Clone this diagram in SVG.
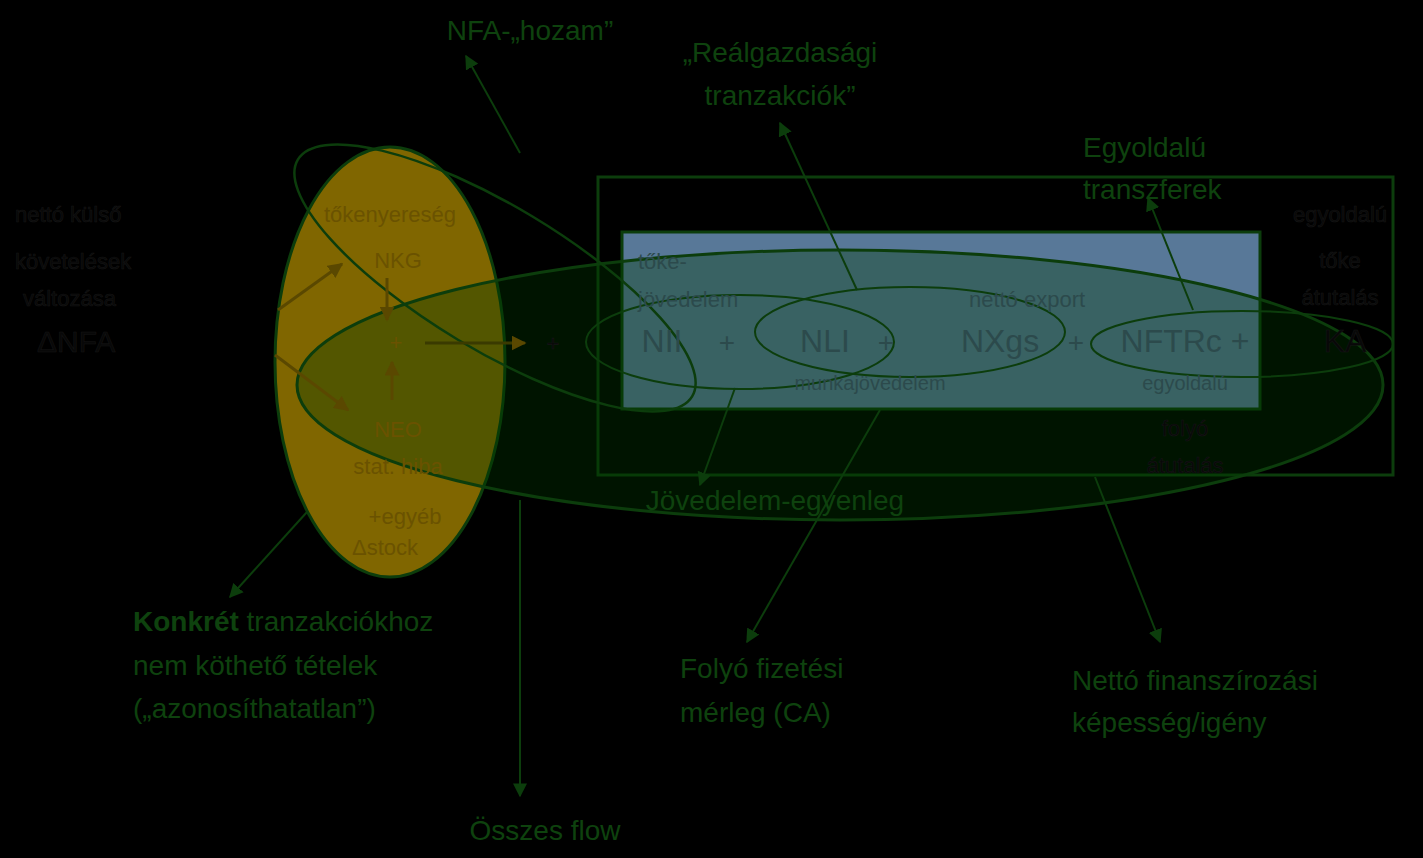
<svg xmlns="http://www.w3.org/2000/svg" width="1423" height="858" viewBox="0 0 1423 858">
<defs>
<marker id="ag" viewBox="0 0 10 10" refX="9" refY="5" markerWidth="7" markerHeight="7" orient="auto"><path d="M0,0L10,5L0,10z" fill="#0c3d0c"/></marker>
<marker id="ao" viewBox="0 0 10 10" refX="9" refY="5" markerWidth="5" markerHeight="5" orient="auto"><path d="M0,0L10,5L0,10z" fill="#5a4800"/></marker>
</defs>
<style>
text{font-family:"Liberation Sans",Arial,sans-serif}
.lab{fill:#0e420e;font-size:28px}
.blk{fill:#080808;font-size:22px;stroke:#151515;stroke-width:0.6}
.ol{fill:#6a5200;font-size:22px}
.bl{fill:#2c4a4c;font-size:22px}
.ln{stroke:#0c3d0c;stroke-width:2;fill:none}
</style>
<rect width="1423" height="858" fill="#000"/>
<g id="yellow"><ellipse cx="390" cy="362" rx="115" ry="215" fill="#806600" stroke="#0c3d0c" stroke-width="3"/></g>
<g id="outerbox"><rect x="598" y="177" width="795" height="298" fill="none" stroke="#0c3d0c" stroke-width="3"/></g>
<g id="bluebox"><rect x="622" y="232" width="638" height="177" fill="#587898" stroke="#0c3d0c" stroke-width="3"/></g>
<g id="bigellipse"><ellipse cx="840" cy="385" rx="543" ry="135" fill="#003a00" fill-opacity="0.35" stroke="#0c3d0c" stroke-width="3"/></g>
<g id="nfaellipse"><ellipse cx="495" cy="278" rx="230" ry="72" transform="rotate(31 495 278)" fill="none" stroke="#0c3d0c" stroke-width="2.5"/></g>
<g id="smallellipses">
<ellipse cx="740" cy="342" rx="154" ry="47" class="ln" stroke="#1a5a1a"/>
<ellipse cx="910" cy="332" rx="155" ry="45" class="ln" stroke="#1a5a1a"/>
<ellipse cx="1242" cy="344" rx="151" ry="33" class="ln" stroke="#1a5a1a"/>
</g>
<g id="left-text" class="blk">
<text x="15" y="222">nettó külső</text>
<text x="15" y="269">követelések</text>
<text x="23" y="306">változása</text>
<text x="37" y="352" font-size="30">ΔNFA</text>
</g>
<g id="yellow-text">
<text x="390" y="222" text-anchor="middle" class="ol">tőkenyereség</text>
<text x="398" y="268" text-anchor="middle" class="ol" font-size="32">NKG</text>
<text x="396" y="350" text-anchor="middle" class="ol">+</text>
<text x="398" y="437" text-anchor="middle" class="ol" font-size="32" fill="#3c3c00">NEO</text>
<text x="398" y="474" text-anchor="middle" class="ol" fill="#3c3c00">stat. hiba</text>
<text x="405" y="524" text-anchor="middle" class="ol" fill="#0e420e">+egyéb</text>
<text x="385" y="555" text-anchor="middle" class="ol" fill="#0e420e">Δstock</text>
<text x="553" y="351" text-anchor="middle" class="blk">+</text>
</g>
<g id="blue-text" class="bl">
<text x="638" y="269">tőke-</text>
<text x="638" y="307">jövedelem</text>
<text x="662" y="352" font-size="32" text-anchor="middle">NII</text>
<text x="727" y="352" font-size="28" text-anchor="middle">+</text>
<text x="825" y="352" font-size="32" text-anchor="middle">NLI</text>
<text x="886" y="352" font-size="28" text-anchor="middle">+</text>
<text x="1027" y="307" text-anchor="middle">nettó export</text>
<text x="1000" y="352" font-size="32" text-anchor="middle">NXgs</text>
<text x="1076" y="352" font-size="28" text-anchor="middle">+</text>
<text x="1185" y="352" font-size="32" text-anchor="middle">NFTRc +</text>
<text x="870" y="390" font-size="20" text-anchor="middle">munkajövedelem</text>
<text x="1185" y="390" font-size="20" text-anchor="middle">egyoldalú</text>
</g>
<g id="right-text" class="blk" text-anchor="middle">
<text x="1340" y="222">egyoldalú</text>
<text x="1340" y="268">tőke</text>
<text x="1340" y="305">átutalás</text>
<text x="1345" y="352" font-size="32">KA</text>
<text x="1185" y="436">folyó</text>
<text x="1185" y="473">átutalás</text>
</g>
<g id="connectors">
<line x1="520" y1="153" x2="466" y2="56" class="ln" marker-end="url(#ag)"/>
<line x1="857" y1="290" x2="780" y2="123" class="ln" marker-end="url(#ag)"/>
<line x1="1193" y1="310" x2="1148" y2="198" class="ln" marker-end="url(#ag)"/>
<line x1="735" y1="388" x2="700" y2="485" class="ln" marker-end="url(#ag)"/>
<line x1="880" y1="410" x2="747" y2="642" class="ln" marker-end="url(#ag)"/>
<line x1="1095" y1="477" x2="1160" y2="642" class="ln" marker-end="url(#ag)"/>
<line x1="307" y1="512" x2="230" y2="597" class="ln" marker-end="url(#ag)"/>
<line x1="520" y1="500" x2="520" y2="796" class="ln" marker-end="url(#ag)"/>
<g stroke="#5a4800" stroke-width="3">
<line x1="278" y1="310" x2="342" y2="264" marker-end="url(#ao)"/>
<line x1="275" y1="355" x2="348" y2="410" marker-end="url(#ao)"/>
<line x1="387" y1="278" x2="387" y2="320" marker-end="url(#ao)"/>
<line x1="392" y1="400" x2="392" y2="362" marker-end="url(#ao)"/>
<line x1="425" y1="343" x2="525" y2="343" stroke="#3a3a00" marker-end="url(#ao)"/>
</g>
</g>
<g id="labels" class="lab">
<text x="530" y="40" text-anchor="middle">NFA-„hozam”</text>
<text x="780" y="62" text-anchor="middle">„Reálgazdasági</text>
<text x="780" y="105" text-anchor="middle">tranzakciók”</text>
<text x="1083" y="157">Egyoldalú</text>
<text x="1083" y="199">transzferek</text>
<text x="775" y="510" text-anchor="middle">Jövedelem-egyenleg</text>
<text x="133" y="631"><tspan font-weight="bold">Konkrét</tspan> tranzakciókhoz</text>
<text x="133" y="675">nem köthető tételek</text>
<text x="133" y="718">(„azonosíthatatlan”)</text>
<text x="680" y="678">Folyó fizetési</text>
<text x="680" y="722">mérleg (CA)</text>
<text x="1072" y="690">Nettó finanszírozási</text>
<text x="1072" y="732">képesség/igény</text>
<text x="545" y="840" text-anchor="middle">Összes flow</text>
</g>
</svg>
